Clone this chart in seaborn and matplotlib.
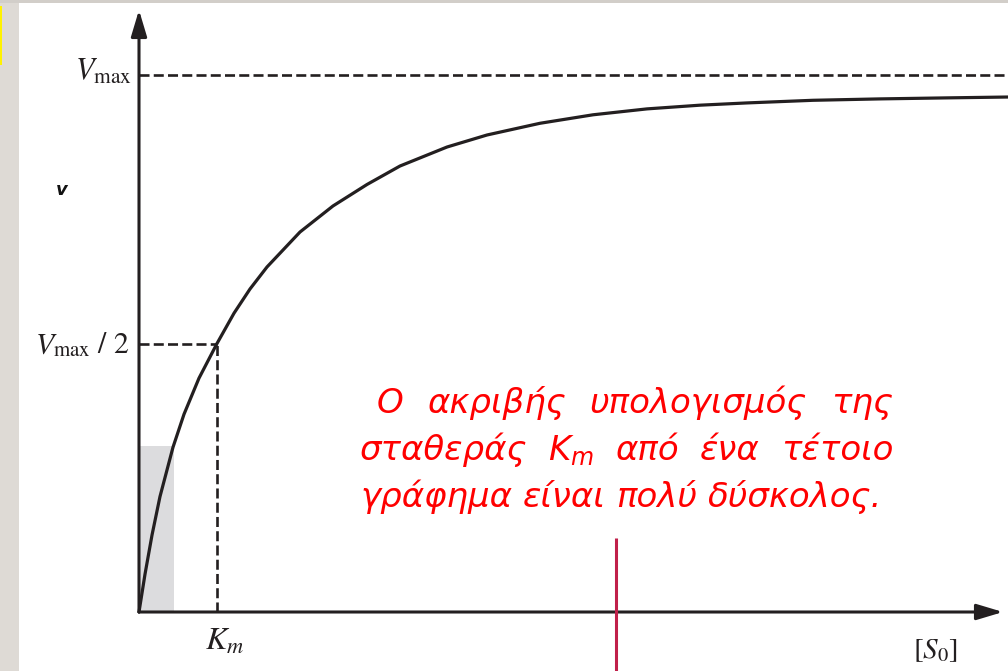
import matplotlib
matplotlib.use("Agg")
import matplotlib.pyplot as plt
from matplotlib.patches import Rectangle
import seaborn as sns

# Michaelis-Menten saturation curve: substrate [S0] (units of Km) vs rate v (units of Vmax)
substrate = [0.0, 0.077, 0.167, 0.269, 0.436, 0.577, 0.769, 1.000, 1.218, 1.423,
             1.641, 2.064, 2.487, 2.923, 3.346, 3.949, 4.462, 5.141, 5.821, 6.513,
             7.192, 7.795, 8.641, 9.500, 10.359, 11.141]
rate = [0.0, 0.0704, 0.1434, 0.2149, 0.3069, 0.3683, 0.4354, 0.5000, 0.5564, 0.6015,
        0.6425, 0.7076, 0.7561, 0.7961, 0.8305, 0.8659, 0.8883, 0.9101, 0.9259, 0.9369,
        0.9438, 0.9480, 0.9529, 0.9555, 0.9574, 0.9590]
v_max = 1.0
k_m = 1.0
shaded_width = 0.449
shaded_height = 0.309

# pixel frame of the drawing
W, H, DPI = 1008, 671, 100
X0, XS = 139, 78     # pixel of S=0, pixels per Km
Y0, YS = 612, 537    # pixel of v=0, pixels per Vmax


def px(x, y):
    return (x - X0) / XS, (Y0 - y) / YS


sns.set_theme(style="white")
plt.rcParams["mathtext.fontset"] = "stix"

fig = plt.figure(figsize=(W / DPI, H / DPI), dpi=DPI, facecolor="white")
ax = fig.add_axes([0, 0, 1, 1])
ax.set_xlim(px(0, 0)[0], px(W, 0)[0])
ax.set_ylim(px(0, H)[1], px(0, 0)[1])
ax.axis("off")

# shaded initial region
ax.add_patch(Rectangle((0, 0), shaded_width, shaded_height, facecolor="#DCDCDE",
                       edgecolor="none", zorder=1))

# reference dashed lines
dash = dict(color="#231F20", lw=1.9, dashes=(3.8, 1.6), zorder=2)
ax.plot([0, px(W, 0)[0]], [v_max, v_max], **dash)
ax.plot([0, k_m], [v_max / 2, v_max / 2], **dash)
ax.plot([k_m, k_m], [0, v_max / 2], **dash)

# the saturation curve
sns.lineplot(x=substrate, y=rate, ax=ax, color="#231F20", lw=2.3, zorder=4,
             estimator=None, solid_joinstyle="round")

# axes with arrowheads
arrow = dict(arrowstyle="-|>,head_length=0.8,head_width=0.24", color="#231F20",
             lw=2.2, mutation_scale=20, shrinkA=0, shrinkB=0)
ax.annotate("", xy=px(X0, 10), xytext=(0, 0), arrowprops=arrow, zorder=5)
ax.annotate("", xy=px(1003, Y0), xytext=(0, 0), arrowprops=arrow, zorder=5)

# axis labels
ink = "#231F20"
ax.text(*px(132, 80), r"$V_{\mathrm{max}}$", ha="right", va="baseline", color=ink, fontsize=22)
ax.text(*px(129, 353), r"$V_{\mathrm{max}}\ /\ 2$", ha="right", va="baseline", color=ink,
        fontsize=21.5)
ax.text(*px(225, 650), r"$K_m$", ha="center", va="baseline", color=ink, fontsize=23)
ax.text(*px(935, 658), r"$[S_0]$", ha="center", va="baseline", color=ink, fontsize=21)
ax.text(*px(62, 190), "v", ha="center", va="center", fontsize=13, fontweight="bold",
        fontstyle="italic", family="DejaVu Sans", color="#111111")

# justified note in red
note_lines = [
    (["Ο", "ακριβής", "υπολογισμός", "της"], 377, 893, 413),
    (["σταθεράς", r"$K_{m}$", "από", "ένα", "τέτοιο"], 360, 893, 460),
    (["γράφημα", "είναι", "πολύ", "δύσκολος."], 360, None, 507),
]
note_style = dict(color="#FF0000", fontsize=24.5, fontstyle="italic",
                  family="DejaVu Sans", math_fontfamily="dejavusans",
                  va="baseline", ha="left", zorder=6)

fig.canvas.draw()
renderer = fig.canvas.get_renderer()


def text_width(s):
    t = ax.text(0, 0, s, **note_style)
    w = t.get_window_extent(renderer).width
    t.remove()
    return w


space = text_width("a a") - text_width("aa")
for words, left, right, base in note_lines:
    widths = [text_width(w) for w in words]
    if right is None:
        gap = space
    else:
        gap = (right - left - sum(widths)) / (len(words) - 1)
    x = left
    for word, w in zip(words, widths):
        ax.text(*px(x, base), word, **note_style)
        x += w + gap

# page frame decorations
fig.add_artist(Rectangle((0, 0), 19 / W, 1, transform=fig.transFigure,
                         facecolor="#DEDAD5", edgecolor="none"))
fig.add_artist(Rectangle((0, 1 - 3 / H), 1, 3 / H, transform=fig.transFigure,
                         facecolor="#D2CEC9", edgecolor="none"))
fig.add_artist(Rectangle((0, 1 - 65 / H), 2 / W, 59 / H, transform=fig.transFigure,
                         facecolor="#FFF200", edgecolor="none"))

# crimson marker line
ax.plot([px(616, 0)[0]] * 2, [px(0, 538)[1], px(0, H)[1]], color="#C0204A",
        lw=2.2, zorder=7, solid_capstyle="butt")

fig.savefig("out.png", dpi=DPI, facecolor="white")
